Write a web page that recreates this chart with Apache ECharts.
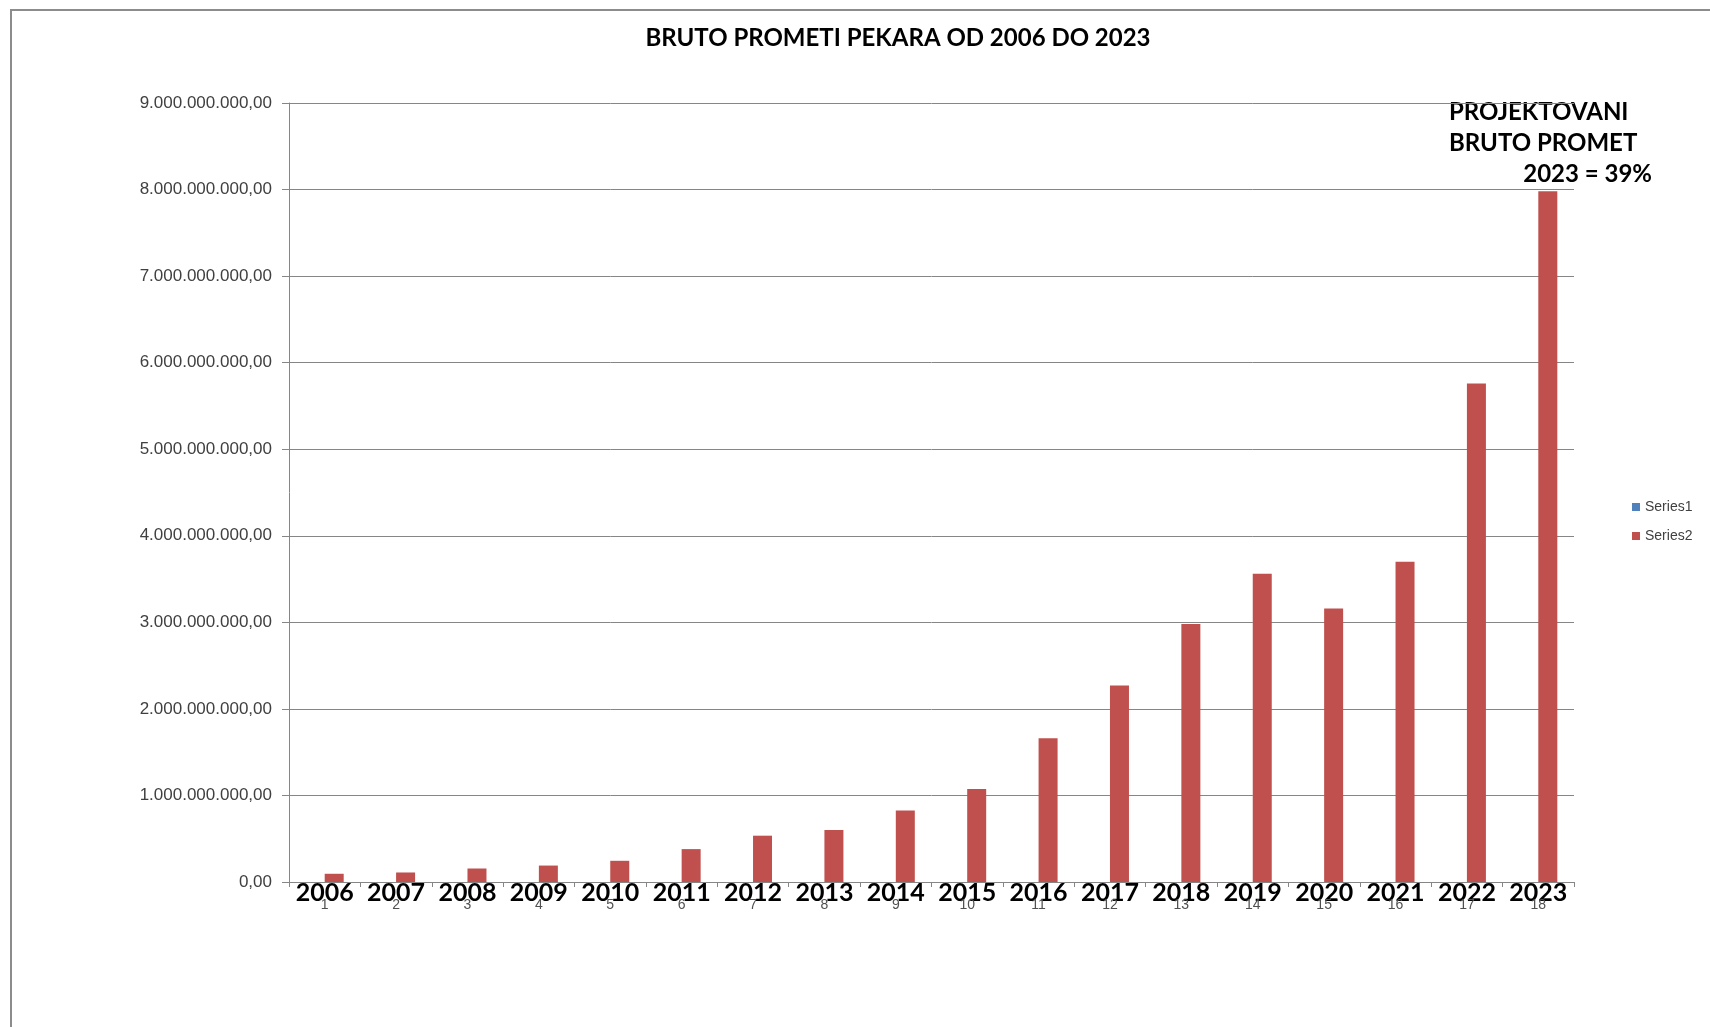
<!DOCTYPE html>
<html>
<head>
<meta charset="utf-8">
<title>Bruto prometi pekara</title>
<script src="https://cdn.jsdelivr.net/npm/echarts@6/dist/echarts.min.js"></script>
<style>
    html, body { margin: 0; padding: 0; background: #fff; }
    #chart { width: 1710px; height: 1027px; }
</style>
</head>
<body>
<div id="chart"></div>
<script>
// podaci
var godine = ['2006', '2007', '2008', '2009', '2010', '2011', '2012', '2013', '2014',
    '2015', '2016', '2017', '2018', '2019', '2020', '2021', '2022', '2023'];
var redniBrojevi = ['1', '2', '3', '4', '5', '6', '7', '8', '9',
    '10', '11', '12', '13', '14', '15', '16', '17', '18'];
var series1 = [0, 0, 0, 0, 0, 0, 0, 0, 0, 0, 0, 0, 0, 0, 0, 0, 0, 0];
var series2 = [95000000, 110000000, 156000000, 190000000, 245000000, 380000000,
    535000000, 600000000, 825000000, 1075000000, 1660000000, 2270000000,
    2980000000, 3560000000, 3160000000, 3700000000, 5760000000, 7980000000];
var yTicks = [0, 1e9, 2e9, 3e9, 4e9, 5e9, 6e9, 7e9, 8e9, 9e9];

// 9000000000 -> 9.000.000.000,00
function formatBroj(v) {
    var s = Math.round(v).toString().replace(/\B(?=(\d{3})+(?!\d))/g, '.');
    return s + ',00';
}

var chart = echarts.init(document.getElementById('chart'));

var option = {
    backgroundColor: '#fff',
    animation: false,
    title: {
        text: 'BRUTO PROMETI PEKARA OD 2006 DO 2023',
        left: 893,
        top: 21,
        textAlign: 'center',
        textStyle: {
            fontFamily: 'Lato',
            fontWeight: 'bold',
            fontSize: 24,
            color: '#000'
        }
    },
    legend: {
        data: ['Series1', 'Series2'],
        orient: 'vertical',
        left: 1627,
        top: 495,
        icon: 'rect',
        itemWidth: 8,
        itemHeight: 8,
        itemGap: 15,
        textStyle: {
            fontFamily: 'Liberation Sans',
            fontSize: 14,
            color: '#404040'
        }
    },
    grid: {
        left: 289,
        right: 136,
        top: 103,
        bottom: 145,
        containLabel: false
    },
    xAxis: [
        {
            type: 'category',
            data: godine,
            position: 'bottom',
            axisLine: { lineStyle: { color: '#868686', width: 1 } },
            axisTick: { show: true, length: 5, lineStyle: { color: '#868686' } },
            axisLabel: {
                interval: 0,
                margin: -2,
                fontFamily: 'Lato',
                fontWeight: 'bold',
                fontSize: 25,
                color: '#000'
            }
        },
        {
            type: 'category',
            data: redniBrojevi,
            position: 'bottom',
            axisLine: { show: false },
            axisTick: { show: false },
            axisLabel: {
                interval: 0,
                margin: 16,
                fontFamily: 'Liberation Sans',
                fontSize: 14,
                color: '#505050'
            }
        }
    ],
    yAxis: {
        type: 'value',
        min: 0,
        max: 9e9,
        interval: 1e9,
        axisLine: { show: true, lineStyle: { color: '#868686' } },
        axisTick: { show: true, length: 7, lineStyle: { color: '#868686' } },
        splitLine: { show: true, lineStyle: { color: '#868686', width: 1 } },
        axisLabel: {
            margin: 17,
            fontFamily: 'Liberation Sans',
            fontSize: 17,
            color: '#404040',
            formatter: function (v) {
                return yTicks.indexOf(v) === 0 ? '0,00' : formatBroj(v);
            }
        }
    },
    series: [
        {
            name: 'Series1',
            type: 'bar',
            xAxisIndex: 0,
            barWidth: 19,
            barGap: '0%',
            itemStyle: { color: '#4F81BD' },
            data: series1
        },
        {
            name: 'Series2',
            type: 'bar',
            xAxisIndex: 0,
            barWidth: 19,
            barGap: '0%',
            itemStyle: { color: '#C0504D' },
            data: series2
        }
    ],
    graphic: [
        {
            // okvir grafikona
            type: 'rect',
            shape: { x: 11, y: 10, width: 1800, height: 1100 },
            style: { fill: 'none', stroke: '#8c8c8c', lineWidth: 2 },
            silent: true
        },
        {
            type: 'text',
            left: 1449,
            top: 97,
            style: {
                text: 'PROJEKTOVANI\nBRUTO PROMET',
                fontFamily: 'Lato',
                fontWeight: 'bold',
                fontSize: 24,
                lineHeight: 31,
                fill: '#000'
            }
        },
        {
            type: 'text',
            right: 58,
            top: 159,
            style: {
                text: '2023 = 39%',
                fontFamily: 'Lato',
                fontWeight: 'bold',
                fontSize: 24,
                lineHeight: 31,
                fill: '#000'
            }
        }
    ]
};

chart.setOption(option);
</script>
</body>
</html>
